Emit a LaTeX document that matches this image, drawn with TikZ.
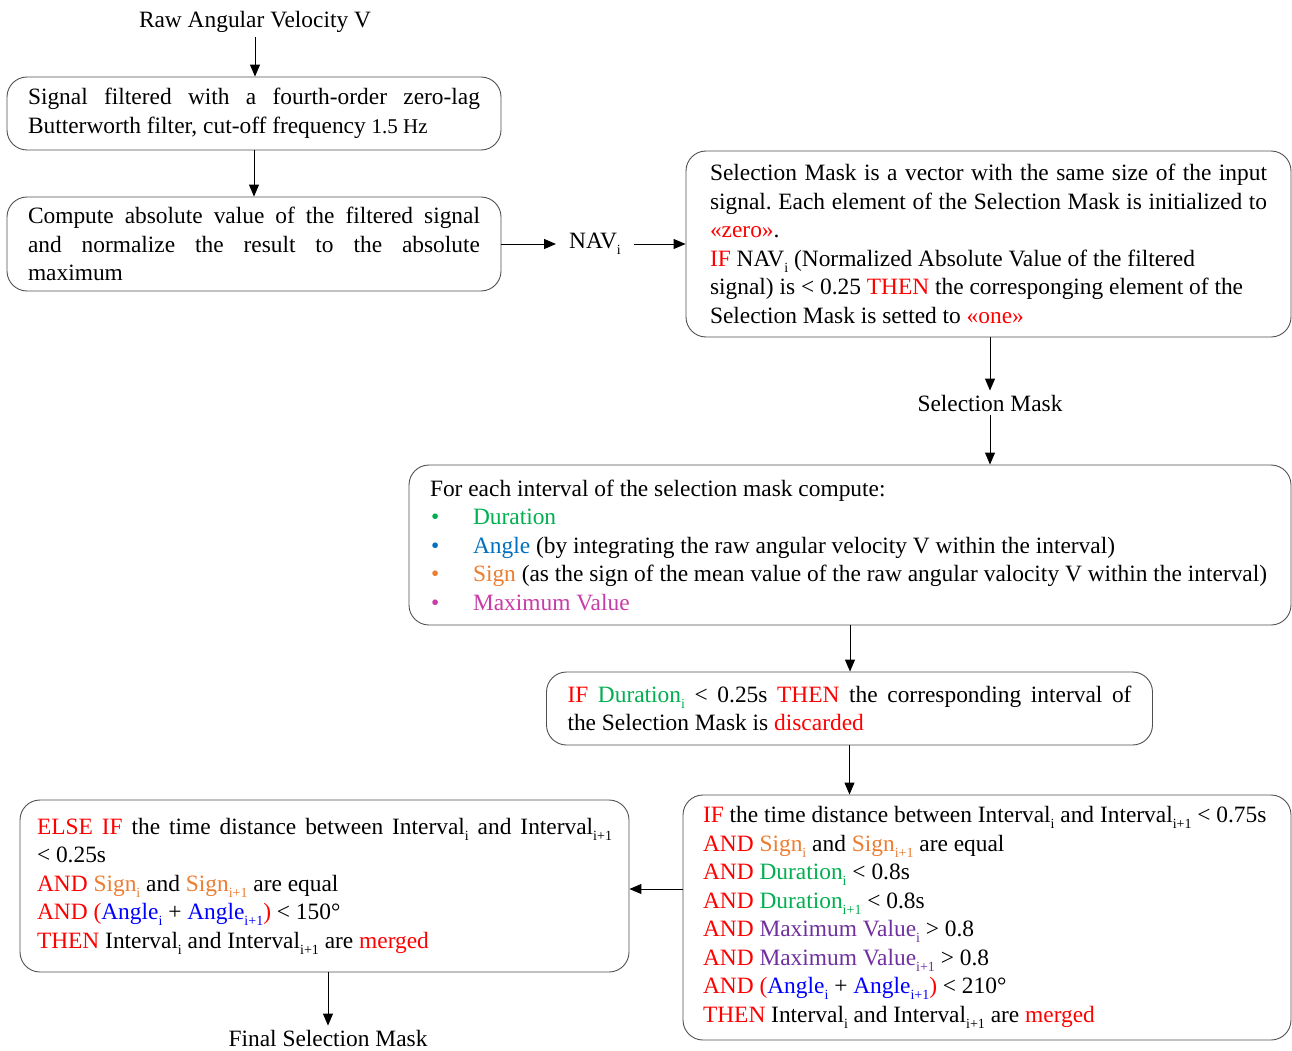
\documentclass[tikz,border=0pt]{standalone}
\usepackage{fontspec}
\setmainfont{Liberation Serif}
\usetikzlibrary{arrows.meta,calc}
\definecolor{kred}{HTML}{FF0000}
\definecolor{kgreen}{HTML}{00B050}
\definecolor{kblue}{HTML}{0070C0}
\definecolor{korange}{HTML}{ED7D31}
\definecolor{kpink}{HTML}{C83CA8}
\definecolor{kpurple}{HTML}{7030A0}
\definecolor{kpblue}{HTML}{0000FF}
\definecolor{boxgray}{HTML}{505050}
\frenchspacing
% small lowered index
\newcommand\lowidx[1]{\raisebox{-0.25em}{\fontsize{14}{14}\selectfont #1}}
\newcommand\cRed[1]{\textcolor{kred}{#1}}
\newcommand\cGreen[1]{\textcolor{kgreen}{#1}}
\newcommand\cOrange[1]{\textcolor{korange}{#1}}
\newcommand\cBlue[1]{\textcolor{kpblue}{#1}}
\newcommand\cPurple[1]{\textcolor{kpurple}{#1}}
\newcommand\bul[1]{\makebox[43pt][l]{\hspace{1pt}\textcolor{#1}{•}}}
\begin{document}
\begin{tikzpicture}[x=1pt,y=-1pt,
  font=\fontsize{23.4}{28.5}\selectfont,
  box/.style={draw=boxgray, line width=0.9pt, rounded corners=20pt,
    align=justify, inner ysep=0pt, inner xsep=21pt},
  lbl/.style={inner sep=4pt},
  arr/.style={-{Triangle[length=12pt,width=10pt]}, line width=1pt, black}]
\fill[white] (0,0) rectangle (1292,1051);
\useasboundingbox (0,0) rectangle (1292,1051);

\node[lbl] (raw) at (255,22) {Raw Angular Velocity V};

\node[box, text width=452pt, minimum height=73pt] (b1) at (254,113.5)
  {Signal filtered with a fourth-order zero-lag\linebreak
   Butterworth filter, cut-off frequency {\fontsize{21}{28.5}\selectfont 1.5 Hz}};

\node[box, text width=452pt, minimum height=94pt] (b2) at (254,244)
  {Compute absolute value of the filtered signal\linebreak
   and normalize the result to the absolute\linebreak maximum};

\node[lbl, inner xsep=13pt] (nav) at (595,244) {NAV\lowidx{i}};

\node[box, inner xsep=24pt, text width=557pt, minimum height=186pt] (b3) at (988.5,244)
  {Selection Mask is a vector with the same size of the input\linebreak
   signal. Each element of the Selection Mask is initialized to\linebreak
   \cRed{«zero»}.\\
   \cRed{IF} NAV\lowidx{i} (Normalized Absolute Value of the filtered\\
   signal) is < 0.25 \cRed{THEN} the corresponging element of the\\
   Selection Mask is setted to \cRed{«one»}};

\node[lbl] (sm) at (990,403) {Selection Mask};

\node[box, text width=840pt, minimum height=160pt] (b4) at (850,545)
  {For each interval of the selection mask compute:\\
   \bul{kgreen}\textcolor{kgreen}{Duration}\\
   \bul{kblue}\textcolor{kblue}{Angle} (by integrating the raw angular velocity V within the interval)\\
   \bul{korange}\textcolor{korange}{Sign} (as the sign of the mean value of the raw angular valocity V within the interval)\\
   \bul{kpink}\textcolor{kpink}{Maximum Value}};

\node[box, text width=564pt, minimum height=73pt] (b5) at (849.5,708.5)
  {\cRed{IF} \cGreen{Duration\lowidx{i}} < 0.25s \cRed{THEN} the corresponding interval of\linebreak
   the Selection Mask is \cRed{discarded}};

\node[box, inner xsep=20pt, text width=568pt, minimum height=245pt] (b6) at (987,917.5)
  {\cRed{IF} the time distance between Interval\lowidx{i} and Interval\lowidx{i+1} < 0.75s\\
   \cRed{AND} \cOrange{Sign\lowidx{i}} and \cOrange{Sign\lowidx{i+1}} are equal\\
   \cRed{AND} \cGreen{Duration\lowidx{i}} < 0.8s\\
   \cRed{AND} \cGreen{Duration\lowidx{i+1}} < 0.8s\\
   \cRed{AND} \cPurple{Maximum Value\lowidx{i}} > 0.8\\
   \cRed{AND} \cPurple{Maximum Value\lowidx{i+1}} > 0.8\\
   \cRed{AND (}\cBlue{Angle\lowidx{i}} + \cBlue{Angle\lowidx{i+1}}\cRed{)} < 210°\\
   \cRed{THEN} Interval\lowidx{i} and Interval\lowidx{i+1} are \cRed{merged}};

\node[box, inner xsep=17pt, text width=575pt, minimum height=172pt] (b7) at (324.5,886)
  {\cRed{ELSE IF} the time distance between Interval\lowidx{i} and Interval\lowidx{i+1}\linebreak
   < 0.25s\\
   \cRed{AND} \cOrange{Sign\lowidx{i}} and \cOrange{Sign\lowidx{i+1}} are equal\\
   \cRed{AND (}\cBlue{Angle\lowidx{i}} + \cBlue{Angle\lowidx{i+1}}\cRed{)} < 150°\\
   \cRed{THEN} Interval\lowidx{i} and Interval\lowidx{i+1} are \cRed{merged}};

\node[lbl] (fin) at (328,1038) {Final Selection Mask};

% connectors
\coordinate (mid) at (0,889);
\draw[arr] (raw.south) -- (raw.south |- b1.north);
\draw[arr] (b1.south) -- (b1.south |- b2.north);
\draw[arr] (b2.east) -- (nav.west);
\draw[arr] (nav.east) -- (b3.west);
\draw[arr] (b3.south -| sm) -- (sm.north);
\draw[arr] (sm.south) -- (sm.south |- b4.north);
\draw[arr] (b4.south) -- (b4.south |- b5.north);
\draw[arr] (b5.south) -- (b5.south |- b6.north);
\draw[arr] (b6.west |- mid) -- (b7.east |- mid);
\draw[arr] (b7.south -| fin) -- (fin.north);
\end{tikzpicture}
\end{document}
